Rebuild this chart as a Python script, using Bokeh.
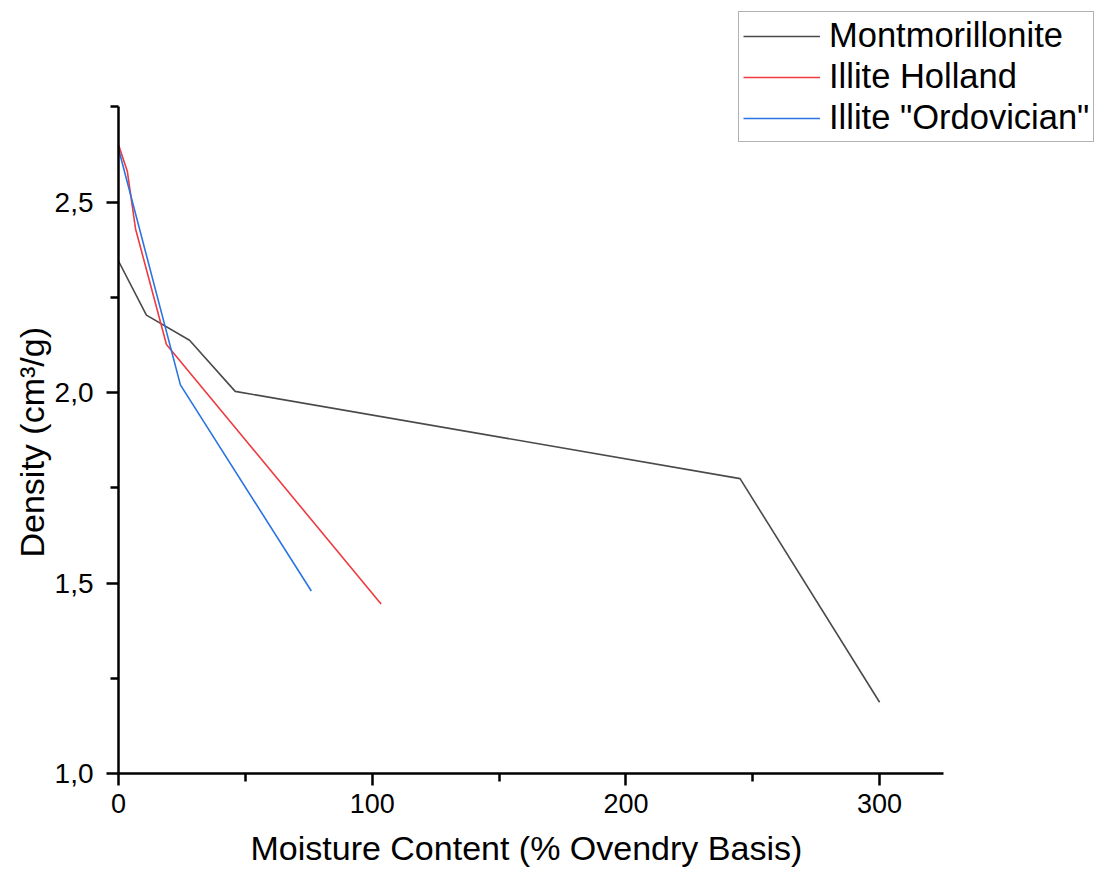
from bokeh.plotting import figure
from bokeh.models import Legend, LegendItem, FixedTicker, Range1d, Title
from bokeh.embed import file_html
from bokeh.resources import INLINE

# Density versus moisture content for three clays
mont_x = [0, 11, 28, 46, 245, 300]
mont_y = [2.345, 2.203, 2.137, 2.003, 1.774, 1.187]

holland_x = [0, 3.5, 6.7, 18.9, 103.5]
holland_y = [2.65, 2.58, 2.43, 2.126, 1.445]

ordo_x = [0, 24.4, 76]
ordo_y = [2.64, 2.02, 1.479]

series_names = ["Montmorillonite", "Illite Holland", 'Illite "Ordovician"']

x_major = [0, 100, 200, 300]
x_minor = [50, 150, 250]
y_major = [1.0, 1.5, 2.0, 2.5]
y_minor = [1.25, 1.75, 2.25, 2.75]
y_labels = ["1,0", "1,5", "2,0", "2,5"]

FONT = "Liberation Sans"

# The data frame spans the whole area right of the y axis so the legend can
# sit in the top-right corner; the axis lines are bounded to the data limits.
X_AXIS_END = 325
Y_AXIS_END = 2.75
PX_PER_X = 2.537
PX_PER_Y = 381.0
FRAME_W = 1096 - 118
FRAME_H = 773

p = figure(width=1096, height=877, output_backend="svg", toolbar_location=None,
           x_range=Range1d(0, FRAME_W / PX_PER_X),
           y_range=Range1d(1.0, 1.0 + FRAME_H / PX_PER_Y),
           min_border_left=118, min_border_right=0,
           min_border_top=0, min_border_bottom=104)
p.outline_line_color = None
p.grid.visible = False
p.background_fill_color = "white"
p.border_fill_color = "white"

r1 = p.line(mont_x, mont_y, line_color="#4a4a4a", line_width=1.6)
r2 = p.line(holland_x, holland_y, line_color="#ee3b40", line_width=1.6)
r3 = p.line(ordo_x, ordo_y, line_color="#2a74e2", line_width=1.6)

p.xaxis.ticker = FixedTicker(ticks=x_major, minor_ticks=x_minor)
p.yaxis.ticker = FixedTicker(ticks=y_major, minor_ticks=y_minor)
p.yaxis.major_label_overrides = {v: s for v, s in zip(y_major, y_labels)}
p.xaxis.bounds = (0, X_AXIS_END)
p.yaxis.bounds = (1.0, Y_AXIS_END)

for ax in (p.xaxis[0], p.yaxis[0]):
    ax.axis_line_width = 2.5
    ax.axis_line_color = "black"
    ax.major_tick_line_width = 2.5
    ax.minor_tick_line_width = 2.5
    ax.major_tick_line_color = "black"
    ax.minor_tick_line_color = "black"
    ax.major_tick_out = 12
    ax.major_tick_in = 0
    ax.minor_tick_out = 8
    ax.minor_tick_in = 0
    ax.major_label_text_font = FONT
    ax.major_label_text_color = "black"

p.xaxis.major_label_text_font_size = "27px"
p.yaxis.major_label_text_font_size = "28px"
p.xaxis.major_label_standoff = 8
p.yaxis.major_label_standoff = 13

# Axis titles, centred on the bounded axis lines rather than on the frame
x_title = Title(text="Moisture Content (% Ovendry Basis)", align="left", offset=132,
                text_font=FONT, text_font_size="34px", text_font_style="normal",
                text_color="black", standoff=22)
y_title = Title(text="Density (cm³/g)", align="left", offset=216,
                text_font=FONT, text_font_size="34px", text_font_style="normal",
                text_color="black", standoff=2)
p.add_layout(x_title, "below")
p.add_layout(y_title, "left")

legend = Legend(items=[LegendItem(label=n, renderers=[r]) for n, r in zip(series_names, [r1, r2, r3])],
                location=(620, 631))
legend.label_text_font = FONT
legend.label_text_font_size = "34.5px"
legend.label_text_color = "black"
legend.glyph_width = 77
legend.glyph_height = 30
legend.label_height = 30
legend.spacing = 2
legend.padding = 4
legend.margin = 0
legend.label_standoff = 9
legend.border_line_color = "#666666"
legend.border_line_width = 1.2
legend.background_fill_alpha = 1.0
p.add_layout(legend, "center")

open("out.html", "w").write(file_html(p, INLINE))
